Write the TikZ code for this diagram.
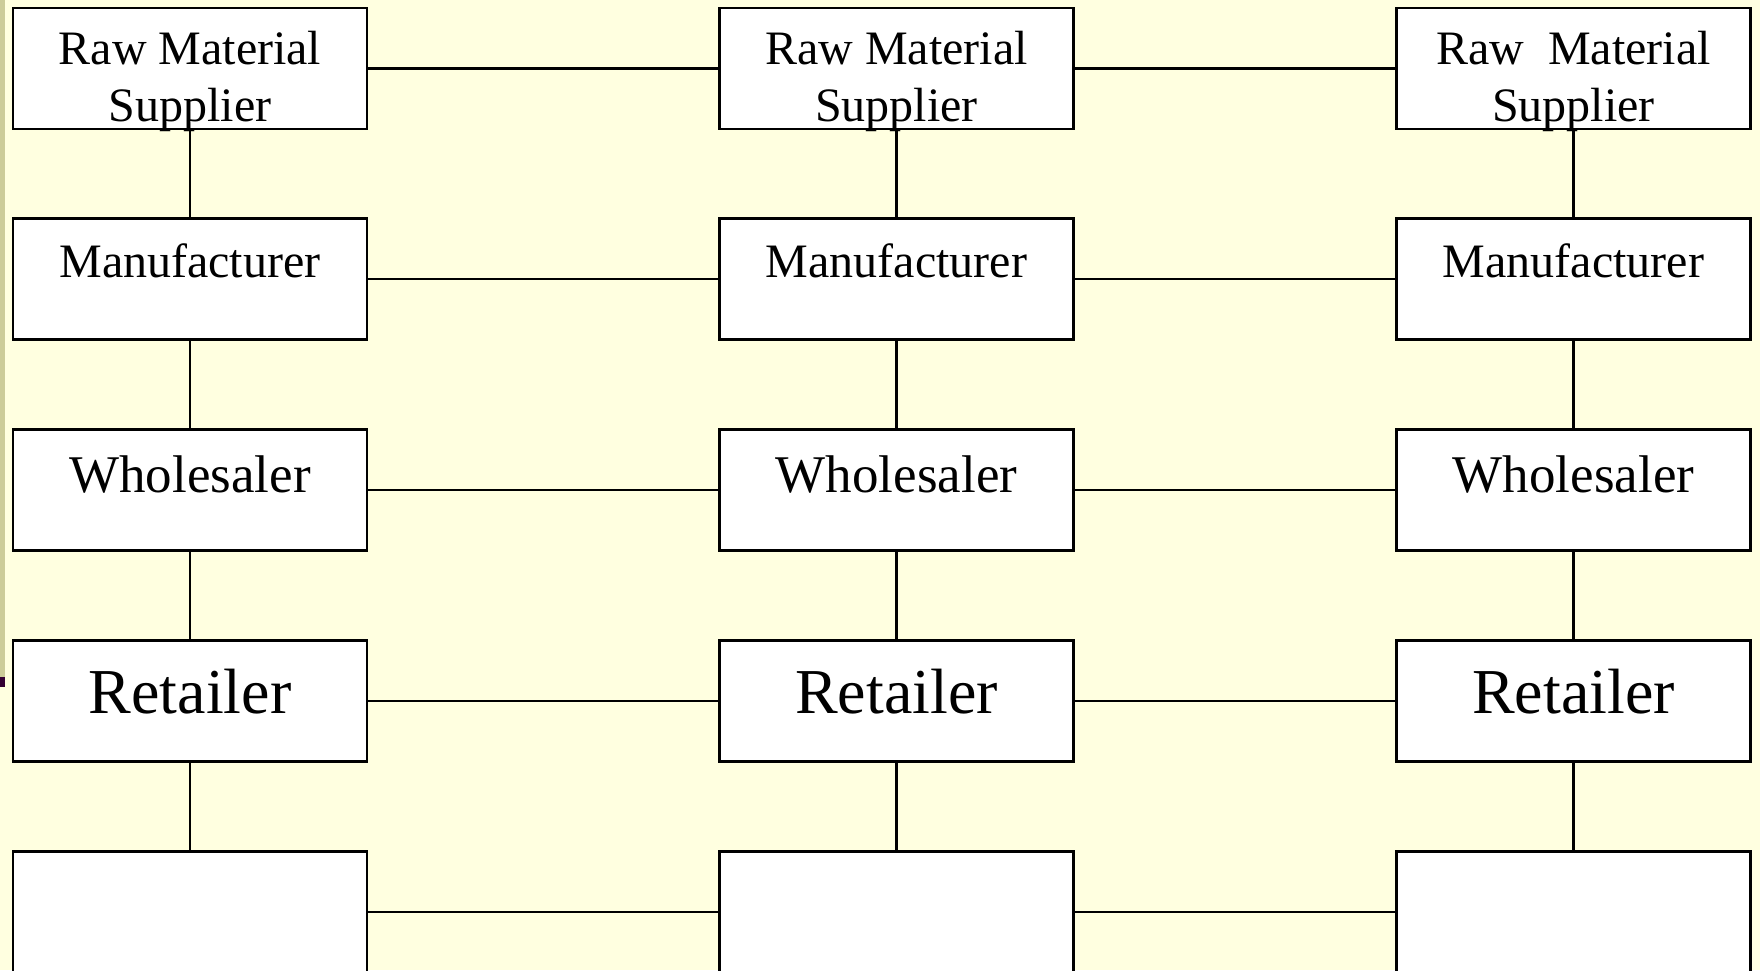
\documentclass[tikz,border=0pt]{standalone}
\usepackage{fontspec}
\setmainfont{Liberation Serif}
\definecolor{bgcream}{HTML}{FFFFE0}
\definecolor{stripkhaki}{HTML}{CCCC99}
\definecolor{markpurple}{HTML}{330033}
\begin{document}
\begin{tikzpicture}[x=1pt,y=-1pt,
  chainbox/.style={draw=black, fill=white, line width=2.8pt, minimum width=354pt, minimum height=121pt, inner sep=0pt},
  link/.style={draw=black, line width=2.8pt},
  lbl/.style={anchor=base, inner sep=0pt, align=center, text=black},
  fA/.style={font=\fontsize{48}{57}\selectfont},
  fB/.style={font=\fontsize{53}{60}\selectfont},
  fC/.style={font=\fontsize{64}{72}\selectfont}]
\useasboundingbox (0,0) rectangle (1760,970);
\fill[bgcream] (0,0) rectangle (1760,970);
\fill[stripkhaki] (0,0) rectangle (5,677);
\fill[markpurple] (0,677) rectangle (5,687);
% boxes
\foreach \c/\cx in {1/190,2/896.5,3/1573.5}{
  \foreach \r/\cy in {1/68.5,2/279,3/490,4/701,5/912}{
    \node[chainbox] (b\r\c) at (\cx,\cy) {};
  }
}
% connectors
\foreach \r in {1,...,5}{
  \draw[link] (b\r1.east) -- (b\r2.west);
  \draw[link] (b\r2.east) -- (b\r3.west);
}
\foreach \c in {1,2,3}{
  \draw[link] (b1\c.south) -- (b2\c.north);
  \draw[link] (b2\c.south) -- (b3\c.north);
  \draw[link] (b3\c.south) -- (b4\c.north);
  \draw[link] (b4\c.south) -- (b5\c.north);
}
% labels
\node[lbl,fA] (t11) at (190,121) {Raw Material\\Supplier};
\node[lbl,fA] (t12) at (896.5,121) {Raw Material\\Supplier};
\node[lbl,fA] (t13) at (1573.5,121) {Raw\ \ Material\\Supplier};
\foreach \c/\cx in {1/190,2/896.5,3/1573.5}{
  \node[lbl,fA] (t2\c) at (\cx,277) {Manufacturer};
  \node[lbl,fB] (t3\c) at (\cx,492) {Wholesaler};
  \node[lbl,fC] (t4\c) at (\cx,713) {Retailer};
}
\end{tikzpicture}
\end{document}
